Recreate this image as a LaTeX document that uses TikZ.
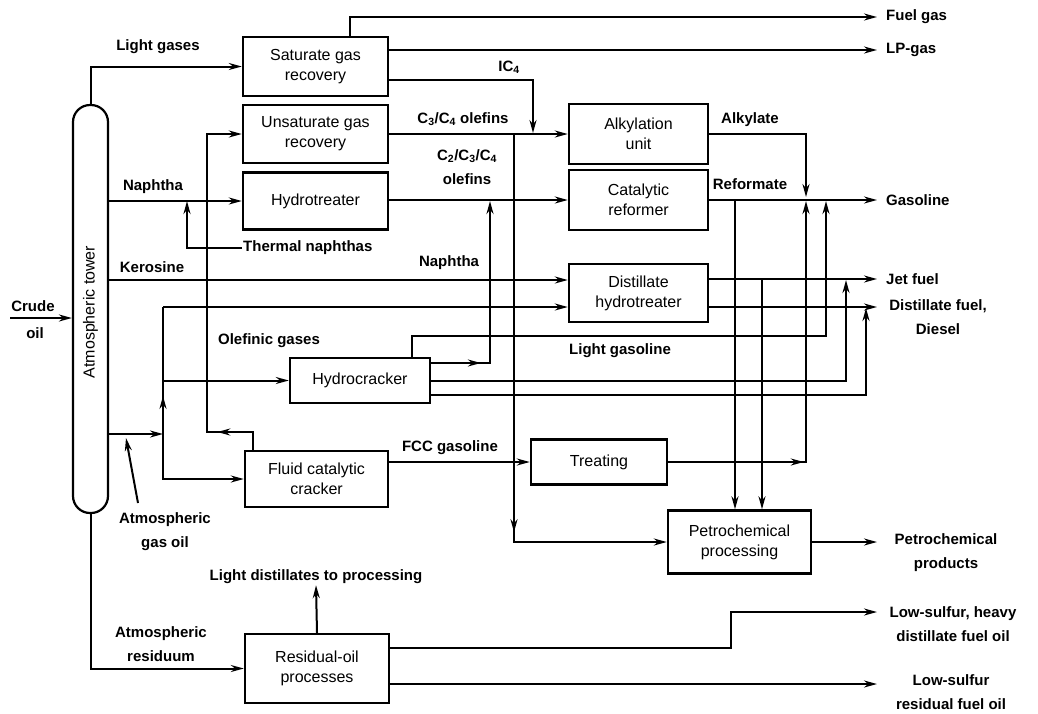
\documentclass[tikz,border=0pt]{standalone}
\usepackage{fontspec}
\setmainfont{Liberation Sans}
\usetikzlibrary{arrows.meta,decorations.markings}
\begin{document}
\begin{tikzpicture}[x=1pt,y=-1pt,
  box/.style={draw,line width=2.4pt,align=center,inner sep=2pt,font=\fontsize{16}{20}\selectfont},
  lab/.style={font=\bfseries\fontsize{15}{24}\selectfont,inner sep=1pt,align=center},
  flow/.style={line width=2pt},
  arr/.style={flow,-{Stealth[length=13pt,width=7pt]}},
  marr/.style={flow,postaction={decorate},decoration={markings,mark=at position #1 with {\arrow{Stealth[length=13pt,width=7pt]}}}},
]
\useasboundingbox (0,0) rectangle (1038,713);

% tower
\node[draw,line width=2.2pt,rounded corners=17pt,minimum width=35pt,minimum height=408pt] (tower) at (90.5,309) {};
\node[rotate=90,font=\fontsize{16}{20}\selectfont] (towerlab) at (90.5,312) {Atmospheric tower};

% process boxes
\node[box,minimum width=145pt,minimum height=59pt] (sat) at (315.5,66.5) {Saturate gas\\recovery};
\node[box,minimum width=145pt,minimum height=58pt] (unsat) at (315.5,134) {Unsaturate gas\\recovery};
\node[box,minimum width=145pt,minimum height=57pt] (hyd) at (315.5,201) {Hydrotreater};
\node[box,minimum width=139pt,minimum height=60pt] (alky) at (638.5,134) {Alkylation\\unit};
\node[box,minimum width=139pt,minimum height=60pt] (catref) at (638.5,200) {Catalytic\\reformer};
\node[box,minimum width=139pt,minimum height=58pt] (disthyd) at (638.5,293) {Distillate\\hydrotreater};
\node[box,minimum width=140pt,minimum height=45pt] (hcr) at (360,380.5) {Hydrocracker};
\node[box,minimum width=143pt,minimum height=56pt] (fcc) at (316.5,479) {Fluid catalytic\\cracker};
\node[box,minimum width=136pt,minimum height=45pt] (treat) at (599,462) {Treating};
\node[box,minimum width=143pt,minimum height=63pt] (petro) at (739.5,542) {Petrochemical\\processing};
\node[box,minimum width=144pt,minimum height=69pt] (resid) at (317,668.5) {Residual-oil\\processes};

% labels
\node[lab] (lgases) at (158,47) {Light gases};
\node[lab,anchor=west] (lfuel) at (885,17) {Fuel gas};
\node[lab,anchor=west] (llp) at (885,50) {LP-gas};
\node[lab] (lic4) at (509,67) {IC\textsubscript{4}};
\node[lab] (lc34) at (463,119) {C\textsubscript{3}/C\textsubscript{4} olefins};
\node[lab] (lc234) at (467,167) {C\textsubscript{2}/C\textsubscript{3}/C\textsubscript{4}\\olefins};
\node[lab] (lnaph1) at (153,187) {Naphtha};
\node[lab,anchor=west] (tnaph) at (242,248) {Thermal naphthas};
\node[lab] (lkero) at (152,267) {Kerosine};
\node[lab] (lnaph2) at (449,263) {Naphtha};
\node[lab] (lolef) at (269,341) {Olefinic gases};
\node[lab] (llgas) at (620,351) {Light gasoline};
\node[lab] (lfcc) at (450,448) {FCC gasoline};
\node[lab] (lalky) at (750,120) {Alkylate};
\node[lab] (lref) at (750,184) {Reformate};
\node[lab,anchor=west] (lgasol) at (885,200) {Gasoline};
\node[lab,anchor=west] (ljet) at (885,279) {Jet fuel};
\node[lab] (ldsl) at (938,317) {Distillate fuel,\\Diesel};
\node[lab] (lpet) at (946,553) {Petrochemical\\products};
\node[lab] (lhdf) at (953,624) {Low-sulfur, heavy\\distillate fuel oil};
\node[lab] (lrfo) at (951,692) {Low-sulfur\\residual fuel oil};
\node[lab] (ldist) at (316,577) {Light distillates to processing};
\node[lab] (lres) at (161,644) {Atmospheric\\residuum};
\node[lab] (lago) at (165,532) {Atmospheric\\gas oil};
\node[lab] (lcrude) at (33,306) {Crude};
\node[lab] (loil) at (35,333) {oil};

% coordinates
\coordinate (fuelgas) at (877,17);
\coordinate (lpgas) at (877,50);
\coordinate (ic4) at (533,133);
\coordinate (olefsplit) at (514,134);
\coordinate (thermal) at (187,201);
\coordinate (ago) at (163,434);
\coordinate (agoup) at (163,307);
\coordinate (agohc) at (163,380.5);
\coordinate (agolead) at (138,503);
\coordinate (agotip) at (126,438);
\coordinate (olturn) at (207,432);
\coordinate (gasout) at (877,200);
\coordinate (jetout) at (877,279);
\coordinate (dieselout) at (877,307);
\coordinate (petout) at (877,542);
\coordinate (hdfout) at (877,612);
\coordinate (rfoout) at (877,684);
\coordinate (alkyin) at (806,197);
\coordinate (gasA) at (806,201);
\coordinate (gasB) at (826,201);
\coordinate (jetB) at (846,280);
\coordinate (dslB) at (866,308);
\coordinate (hcnaph) at (490,201);
\coordinate (reftap) at (735,200);
\coordinate (jettap) at (762,279);
\coordinate (lgturn) at (826,336);
\coordinate (hdfturn) at (731,612);
\coordinate (crudein) at (10,318);

% connectors
\draw[arr] (crudein) -- (tower.west |- crudein);
\draw[arr] (tower.north) |- (sat.west);
\draw[arr] (sat.north -| 350,0) |- (fuelgas);
\draw[arr] (sat.east |- lpgas) -- (lpgas);
\draw[arr] (sat.east |- 0,80) -| (ic4);
\draw[arr] (unsat.east) -- (alky.west);
\draw[marr=0.71,arr] (olefsplit) |- (petro.west);
\draw[arr] (tower.east |- hyd.west) -- (hyd.west);
\draw[arr] (tnaph.west) -| (thermal);
\draw[arr] (hyd.east |- catref.west) -- (catref.west);
\draw[arr] (tower.east |- 0,280) -- (disthyd.west |- 0,280);
\draw[marr=0.135,arr] (fcc.north -| 253,0) |- (olturn) |- (unsat.west);
\draw[arr] (tower.east |- ago) -- (ago);
\draw[arr] (ago) |- (fcc.west);
\draw[marr=0.3] (ago) -- (agoup);
\draw[arr] (agoup) -- (disthyd.west |- agoup);
\draw[arr] (agohc) -- (hcr.west);
\draw[arr] (agolead) -- (agotip);
\draw[arr] (tower.south) |- (resid.west);
\draw[arr] (resid.north) -- (ldist.south);
\draw[arr] (resid.east |- 0,648) -| (hdfturn) -- (hdfout);
\draw[arr] (resid.east |- rfoout) -- (rfoout);
\draw[arr] (petro.east) -- (petout);
\draw[arr] (alky.east) -| (alkyin);
\draw[arr] (catref.east) -- (gasout);
\draw[arr] (reftap) -- (petro.north -| reftap);
\draw[arr] (jettap) -- (petro.north -| jettap);
\draw[arr] (disthyd.east |- jetout) -- (jetout);
\draw[arr] (disthyd.east |- dieselout) -- (dieselout);
\draw[arr] (fcc.east |- treat.west) -- (treat.west);
\draw[marr=0.34,arr] (treat.east) -| (gasA);
\draw[arr] (hcr.north -| 412,0) |- (lgturn) -- (gasB);
\draw[marr=0.225,arr] (hcr.east |- 0,363) -| (hcnaph);
\draw[arr] (hcr.east) -| (jetB);
\draw[arr] (hcr.east |- 0,395) -| (dslB);
\end{tikzpicture}
\end{document}
